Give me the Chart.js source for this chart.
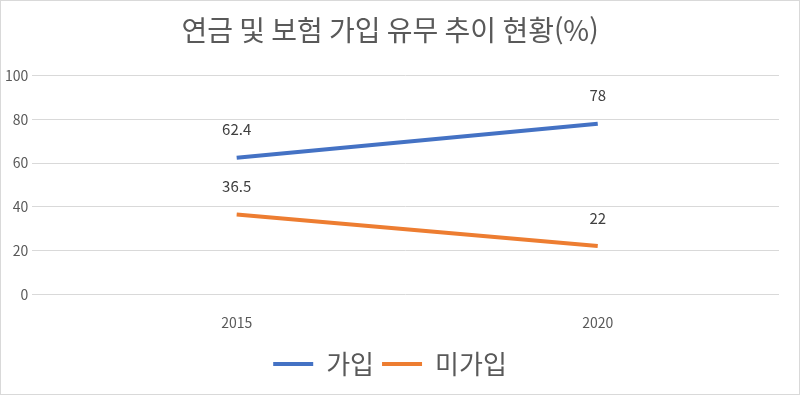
<!DOCTYPE html>
<html lang="ko">
<head>
    <meta charset="UTF-8">
    <title>연금 및 보험 가입 유무 추이 현황</title>
    <script src="https://cdn.jsdelivr.net/npm/chart.js"></script>
    <style>
        html, body { margin: 0; padding: 0; background: #fff; }
        .wrap {
            width: 798px;
            height: 393px;
            border: 1px solid #d9d9d9;
            position: relative;
        }
    </style>
</head>
<body>
    <div class="wrap">
        <canvas id="chart"></canvas>
    </div>

    <script>
        const years = [2015, 2020];
        const joined = [62.4, 78];
        const notJoined = [36.5, 22];
        const yTicks = [0, 20, 40, 60, 80, 100];

        const FONT = "'Noto Sans CJK KR', 'Noto Sans', sans-serif";

        // value labels above each point
        const pointLabels = {
            id: 'pointLabels',
            afterDatasetsDraw(chart) {
                const ctx = chart.ctx;
                ctx.save();
                ctx.font = '15px ' + FONT;
                ctx.fillStyle = '#404040';
                ctx.textAlign = 'center';
                ctx.textBaseline = 'middle';
                chart.data.datasets.forEach((ds, i) => {
                    chart.getDatasetMeta(i).data.forEach((pt, j) => {
                        ctx.fillText(String(ds.data[j].y), pt.x, pt.y - 28);
                    });
                });
                ctx.restore();
            }
        };

        new Chart(document.getElementById('chart'), {
            type: 'line',
            data: {
                datasets: [{
                    label: '가입',
                    data: years.map((y, i) => ({ x: y, y: joined[i] })),
                    borderColor: '#4472C4',
                    backgroundColor: '#4472C4',
                    borderWidth: 4,
                    pointRadius: 0,
                    pointStyle: 'line'
                }, {
                    label: '미가입',
                    data: years.map((y, i) => ({ x: y, y: notJoined[i] })),
                    borderColor: '#ED7D31',
                    backgroundColor: '#ED7D31',
                    borderWidth: 4,
                    pointRadius: 0,
                    pointStyle: 'line'
                }]
            },
            options: {
                responsive: true,
                maintainAspectRatio: false,
                animation: false,
                layout: { padding: { left: 0, right: 20, top: 6, bottom: 7 } },
                plugins: {
                    title: {
                        display: true,
                        text: '연금 및 보험 가입 유무 추이 현황(%)',
                        color: '#595959',
                        font: { family: FONT, size: 28, weight: 'normal' },
                        padding: { top: 7, bottom: 28 }
                    },
                    legend: {
                        position: 'bottom',
                        labels: {
                            usePointStyle: true,
                            pointStyleWidth: 40,
                            boxHeight: 26,
                            color: '#595959',
                            font: { family: FONT, size: 26 },
                            padding: 8
                        }
                    },
                    tooltip: { enabled: false }
                },
                scales: {
                    x: {
                        type: 'linear',
                        min: 2012.17,
                        max: 2022.51,
                        afterBuildTicks(scale) {
                            scale.ticks = years.map(v => ({ value: v }));
                        },
                        grid: { display: false },
                        border: { display: false },
                        ticks: {
                            color: '#595959',
                            font: { family: FONT, size: 14 },
                            padding: 12,
                            callback: v => String(v)
                        }
                    },
                    y: {
                        min: 0,
                        max: 100,
                        afterBuildTicks(scale) {
                            scale.ticks = yTicks.map(v => ({ value: v }));
                        },
                        grid: { color: '#d9d9d9', lineWidth: 1, drawTicks: false },
                        border: { display: false },
                        ticks: {
                            color: '#595959',
                            font: { family: FONT, size: 14 },
                            padding: 4
                        }
                    }
                }
            },
            plugins: [pointLabels]
        });
    </script>
</body>
</html>
